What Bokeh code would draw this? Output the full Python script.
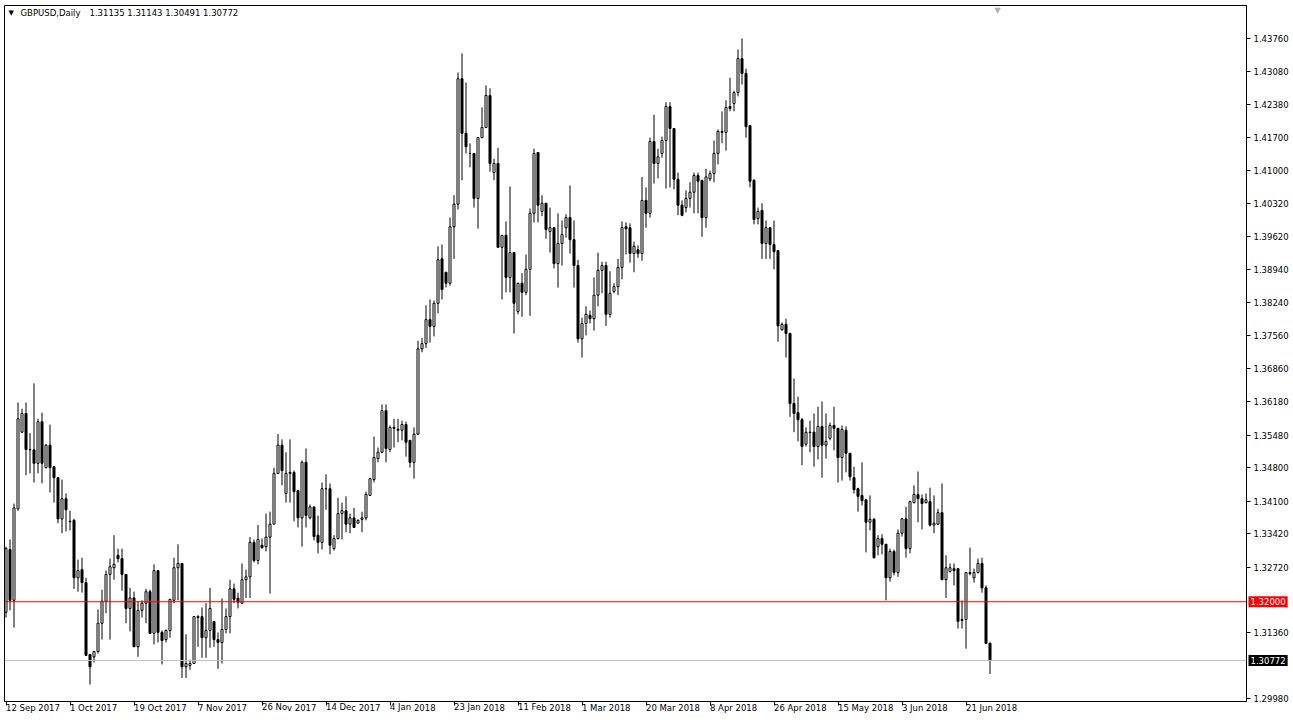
from bokeh.plotting import figure
from bokeh.models import Range1d, FixedTicker, Span, Label, ColumnDataSource, NumeralTickFormatter
from bokeh.embed import file_html
from bokeh.resources import INLINE

symbol = "GBPUSD,Daily"

date_labels = ["12 Sep 2017", "1 Oct 2017", "19 Oct 2017", "7 Nov 2017", "26 Nov 2017",
               "14 Dec 2017", "4 Jan 2018", "23 Jan 2018", "11 Feb 2018", "1 Mar 2018",
               "20 Mar 2018", "8 Apr 2018", "26 Apr 2018", "15 May 2018", "3 Jun 2018",
               "21 Jun 2018"]
bars_per_label = 16

price_ticks = [1.43760, 1.43080, 1.42380, 1.41700, 1.41000, 1.40320, 1.39620, 1.38940,
               1.38240, 1.37560, 1.36860, 1.36180, 1.35480, 1.34800, 1.34100, 1.33420,
               1.32720, 1.31360, 1.29980]

level_price = 1.32000

opens = [
    1.3178, 1.3309, 1.3203, 1.3394, 1.3554, 1.3593, 1.3518, 1.3517, 1.3489, 1.3576,
    1.3480, 1.3527, 1.3482, 1.3459, 1.3373, 1.3415, 1.3368, 1.3370, 1.3250, 1.3267,
    1.3240, 1.3090, 1.3085, 1.3096, 1.3155, 1.3201, 1.3257, 1.3271, 1.3297, 1.3290,
    1.3257, 1.3186, 1.3208, 1.3106, 1.3182, 1.3197, 1.3221, 1.3134, 1.3265, 1.3136,
    1.3121, 1.3140, 1.3203, 1.3271, 1.3280, 1.3064, 1.3067, 1.3071, 1.3167, 1.3169,
    1.3125, 1.3140, 1.3159, 1.3121, 1.3115, 1.3142, 1.3169, 1.3227, 1.3207, 1.3197,
    1.3246, 1.3252, 1.3324, 1.3286, 1.3318, 1.3315, 1.3335, 1.3362, 1.3468, 1.3527,
    1.3426, 1.3468, 1.3470, 1.3432, 1.3375, 1.3491, 1.3375, 1.3398, 1.3339, 1.3324,
    1.3436, 1.3436, 1.3311, 1.3332, 1.3384, 1.3390, 1.3362, 1.3375, 1.3364, 1.3372,
    1.3375, 1.3422, 1.3455, 1.3499, 1.3512, 1.3599, 1.3518, 1.3564, 1.3560, 1.3558,
    1.3570, 1.3537, 1.3491, 1.3550, 1.3728, 1.3739, 1.3789, 1.3775, 1.3823, 1.3916,
    1.3888, 1.3865, 1.3983, 1.4030, 1.4292, 1.4178, 1.4136, 1.4136, 1.4042, 1.4169,
    1.4190, 1.4257, 1.4096, 1.4115, 1.3940, 1.3965, 1.3877, 1.3929, 1.3806, 1.3865,
    1.3846, 1.3894, 1.4011, 1.4138, 1.4015, 1.4032, 1.3973, 1.3981, 1.3906, 1.3948,
    1.3981, 1.4002, 1.3956, 1.3902, 1.3749, 1.3781, 1.3798, 1.3791, 1.3840, 1.3892,
    1.3902, 1.3800, 1.3848, 1.3858, 1.3898, 1.3983, 1.3981, 1.3927, 1.3935, 1.3927,
    1.4038, 1.4011, 1.4161, 1.4115, 1.4136, 1.4163, 1.4234, 1.4188, 1.4082, 1.4028,
    1.4023, 1.4042, 1.4055, 1.4090, 1.4080, 1.4002, 1.4083, 1.4094, 1.4136, 1.4180,
    1.4180, 1.4234, 1.4240, 1.4263, 1.4334, 1.4303, 1.4194, 1.4080, 1.4000, 1.4017,
    1.3948, 1.3981, 1.3946, 1.3933, 1.3768, 1.3779, 1.3760, 1.3614, 1.3595, 1.3580,
    1.3529, 1.3554, 1.3554, 1.3524, 1.3566, 1.3527, 1.3541, 1.3568, 1.3562, 1.3501,
    1.3558, 1.3510, 1.3459, 1.3436, 1.3422, 1.3413, 1.3366, 1.3372, 1.3315, 1.3332,
    1.3320, 1.3250, 1.3305, 1.3261, 1.3343, 1.3373, 1.3311, 1.3407, 1.3424, 1.3415,
    1.3407, 1.3409, 1.3360, 1.3362, 1.3386, 1.3246, 1.3263, 1.3269, 1.3269, 1.3163,
    1.3163, 1.3259, 1.3250, 1.3261, 1.3280, 1.3229, 1.31135,
]

highs = [
    1.3315, 1.3330, 1.3405, 1.3616, 1.3603, 1.3616, 1.3552, 1.3656, 1.3582, 1.3595,
    1.3529, 1.3570, 1.3482, 1.3459, 1.3455, 1.3426, 1.3390, 1.3373, 1.3288, 1.3292,
    1.3250, 1.3090, 1.3096, 1.3184, 1.3225, 1.3265, 1.3290, 1.3339, 1.3311, 1.3311,
    1.3257, 1.3229, 1.3221, 1.3201, 1.3203, 1.3227, 1.3225, 1.3278, 1.3265, 1.3140,
    1.3142, 1.3205, 1.3292, 1.3320, 1.3280, 1.3132, 1.3079, 1.3169, 1.3172, 1.3188,
    1.3197, 1.3229, 1.3159, 1.3136, 1.3207, 1.3186, 1.3246, 1.3238, 1.3219, 1.3280,
    1.3267, 1.3335, 1.3330, 1.3360, 1.3332, 1.3384, 1.3388, 1.3480, 1.3550, 1.3539,
    1.3512, 1.3539, 1.3474, 1.3434, 1.3495, 1.3520, 1.3403, 1.3398, 1.3380, 1.3449,
    1.3466, 1.3447, 1.3339, 1.3417, 1.3407, 1.3420, 1.3384, 1.3396, 1.3372, 1.3388,
    1.3430, 1.3459, 1.3545, 1.3522, 1.3612, 1.3612, 1.3568, 1.3582, 1.3582, 1.3578,
    1.3576, 1.3537, 1.3564, 1.3745, 1.3751, 1.3819, 1.3831, 1.3829, 1.3942, 1.3946,
    1.3888, 1.4002, 1.4049, 1.4305, 1.4345, 1.4284, 1.4157, 1.4136, 1.4169, 1.4232,
    1.4278, 1.4272, 1.4125, 1.4148, 1.3965, 1.3994, 1.4067, 1.3929, 1.3865, 1.3886,
    1.3925, 1.4021, 1.4146, 1.4138, 1.4049, 1.4032, 1.4023, 1.3981, 1.4011, 1.3996,
    1.4009, 1.4069, 1.3996, 1.3914, 1.3793, 1.3817, 1.3808, 1.3877, 1.3929, 1.3910,
    1.3910, 1.3890, 1.3865, 1.3916, 1.3994, 1.3992, 1.3990, 1.3952, 1.3944, 1.4087,
    1.4065, 1.4169, 1.4217, 1.4146, 1.4171, 1.4243, 1.4243, 1.4188, 1.4096, 1.4038,
    1.4059, 1.4076, 1.4096, 1.4096, 1.4080, 1.4104, 1.4100, 1.4163, 1.4186, 1.4224,
    1.4247, 1.4294, 1.4267, 1.4353, 1.4376, 1.4313, 1.4194, 1.4082, 1.4023, 1.4032,
    1.3996, 1.3981, 1.3996, 1.3933, 1.3783, 1.3791, 1.3762, 1.3666, 1.3628, 1.3584,
    1.3564, 1.3578, 1.3593, 1.3607, 1.3618, 1.3593, 1.3574, 1.3607, 1.3562, 1.3568,
    1.3566, 1.3510, 1.3482, 1.3438, 1.3491, 1.3415, 1.3422, 1.3375, 1.3339, 1.3341,
    1.3320, 1.3311, 1.3309, 1.3351, 1.3375, 1.3398, 1.3411, 1.3443, 1.3472, 1.3424,
    1.3426, 1.3438, 1.3422, 1.3394, 1.3447, 1.3297, 1.3280, 1.3280, 1.3269, 1.3203,
    1.3261, 1.3313, 1.3269, 1.3290, 1.3292, 1.3234, 1.31143,
]

lows = [
    1.3167, 1.3182, 1.3146, 1.3390, 1.3552, 1.3464, 1.3468, 1.3449, 1.3468, 1.3447,
    1.3478, 1.3428, 1.3407, 1.3364, 1.3343, 1.3347, 1.3349, 1.3227, 1.3221, 1.3219,
    1.3088, 1.3027, 1.3073, 1.3092, 1.3121, 1.3176, 1.3121, 1.3246, 1.3282, 1.3223,
    1.3155, 1.3138, 1.3106, 1.3085, 1.3167, 1.3155, 1.3134, 1.3111, 1.3115, 1.3069,
    1.3115, 1.3125, 1.3197, 1.3203, 1.3041, 1.3041, 1.3058, 1.3071, 1.3106, 1.3083,
    1.3083, 1.3104, 1.3106, 1.3060, 1.3071, 1.3134, 1.3134, 1.3197, 1.3186, 1.3195,
    1.3208, 1.3208, 1.3282, 1.3278, 1.3311, 1.3305, 1.3217, 1.3362, 1.3468, 1.3443,
    1.3407, 1.3407, 1.3368, 1.3355, 1.3315, 1.3355, 1.3372, 1.3328, 1.3301, 1.3309,
    1.3392, 1.3299, 1.3307, 1.3330, 1.3330, 1.3345, 1.3343, 1.3355, 1.3364, 1.3345,
    1.3370, 1.3422, 1.3449, 1.3491, 1.3510, 1.3491, 1.3512, 1.3522, 1.3533, 1.3537,
    1.3503, 1.3480, 1.3457, 1.3548, 1.3721, 1.3730, 1.3741, 1.3754, 1.3802, 1.3831,
    1.3856, 1.3860, 1.3916, 1.4019, 1.4080, 1.4136, 1.4107, 1.4023, 1.3979, 1.4169,
    1.4190, 1.4098, 1.4080, 1.3940, 1.3831, 1.3846, 1.3846, 1.3760, 1.3800, 1.3795,
    1.3840, 1.3797, 1.3992, 1.3992, 1.4005, 1.3958, 1.3929, 1.3896, 1.3856, 1.3902,
    1.3960, 1.3927, 1.3856, 1.3741, 1.3710, 1.3756, 1.3781, 1.3766, 1.3817, 1.3844,
    1.3776, 1.3793, 1.3844, 1.3840, 1.3873, 1.3925, 1.3908, 1.3888, 1.3918, 1.3912,
    1.3981, 1.4002, 1.4073, 1.4084, 1.4127, 1.4063, 1.4065, 1.4061, 1.4007, 1.4005,
    1.4013, 1.4023, 1.4011, 1.4011, 1.3962, 1.3981, 1.4078, 1.4076, 1.4113, 1.4157,
    1.4142, 1.4224, 1.4224, 1.4255, 1.4280, 1.4169, 1.4065, 1.3988, 1.3988, 1.3916,
    1.3916, 1.3916, 1.3894, 1.3743, 1.3766, 1.3710, 1.3586, 1.3554, 1.3535, 1.3485,
    1.3524, 1.3512, 1.3482, 1.3497, 1.3459, 1.3499, 1.3537, 1.3516, 1.3449, 1.3453,
    1.3470, 1.3453, 1.3426, 1.3388, 1.3401, 1.3303, 1.3349, 1.3290, 1.3297, 1.3299,
    1.3203, 1.3242, 1.3255, 1.3252, 1.3336, 1.3292, 1.3301, 1.3405, 1.3366, 1.3351,
    1.3405, 1.3357, 1.3343, 1.3360, 1.3246, 1.3208, 1.3261, 1.3234, 1.3144, 1.3144,
    1.3102, 1.3255, 1.3240, 1.3259, 1.3219, 1.3113, 1.30491,
]

closes = [
    1.3311, 1.3203, 1.3396, 1.3582, 1.3593, 1.3518, 1.3517, 1.3489, 1.3576, 1.3489,
    1.3527, 1.3480, 1.3459, 1.3373, 1.3415, 1.3392, 1.3367, 1.3250, 1.3265, 1.3240,
    1.3088, 1.3064, 1.3096, 1.3155, 1.3201, 1.3257, 1.3273, 1.3278, 1.3290, 1.3257,
    1.3186, 1.3208, 1.3106, 1.3182, 1.3197, 1.3221, 1.3134, 1.3265, 1.3136, 1.3119,
    1.3140, 1.3205, 1.3271, 1.3280, 1.3064, 1.3071, 1.3071, 1.3169, 1.3169, 1.3125,
    1.3140, 1.3186, 1.3121, 1.3115, 1.3142, 1.3169, 1.3227, 1.3205, 1.3199, 1.3246,
    1.3252, 1.3324, 1.3286, 1.3330, 1.3313, 1.3335, 1.3362, 1.3468, 1.3527, 1.3474,
    1.3468, 1.3470, 1.3430, 1.3375, 1.3491, 1.3380, 1.3398, 1.3336, 1.3324, 1.3436,
    1.3436, 1.3318, 1.3332, 1.3384, 1.3390, 1.3362, 1.3375, 1.3355, 1.3370, 1.3375,
    1.3424, 1.3457, 1.3501, 1.3512, 1.3599, 1.3520, 1.3564, 1.3562, 1.3558, 1.3570,
    1.3533, 1.3491, 1.3550, 1.3728, 1.3739, 1.3789, 1.3775, 1.3823, 1.3914, 1.3852,
    1.3865, 1.3983, 1.4030, 1.4292, 1.4178, 1.4150, 1.4136, 1.4042, 1.4169, 1.4190,
    1.4257, 1.4115, 1.4115, 1.3940, 1.3965, 1.3877, 1.3929, 1.3823, 1.3865, 1.3846,
    1.3894, 1.4011, 1.4136, 1.4028, 1.4032, 1.3977, 1.3981, 1.3906, 1.3948, 1.3967,
    1.4002, 1.3956, 1.3902, 1.3749, 1.3781, 1.3800, 1.3791, 1.3840, 1.3892, 1.3902,
    1.3800, 1.3844, 1.3858, 1.3898, 1.3981, 1.3979, 1.3927, 1.3942, 1.3927, 1.4038,
    1.4011, 1.4161, 1.4115, 1.4129, 1.4163, 1.4234, 1.4188, 1.4082, 1.4028, 1.4007,
    1.4042, 1.4055, 1.4090, 1.4078, 1.4002, 1.4087, 1.4094, 1.4136, 1.4182, 1.4182,
    1.4232, 1.4230, 1.4263, 1.4334, 1.4303, 1.4192, 1.4078, 1.3998, 1.4015, 1.3948,
    1.3981, 1.3946, 1.3931, 1.3776, 1.3779, 1.3760, 1.3614, 1.3593, 1.3580, 1.3524,
    1.3554, 1.3553, 1.3524, 1.3566, 1.3527, 1.3535, 1.3568, 1.3562, 1.3501, 1.3560,
    1.3510, 1.3461, 1.3434, 1.3420, 1.3411, 1.3366, 1.3372, 1.3292, 1.3332, 1.3320,
    1.3250, 1.3305, 1.3261, 1.3343, 1.3373, 1.3311, 1.3409, 1.3424, 1.3415, 1.3405,
    1.3413, 1.3360, 1.3364, 1.3386, 1.3246, 1.3271, 1.3271, 1.3265, 1.3159, 1.3161,
    1.3261, 1.3261, 1.3261, 1.3280, 1.3229, 1.3113, 1.30772,
]

FONT = "DejaVu Sans"
FS = "8.5px"

n = len(opens)
src = ColumnDataSource(dict(
    x=list(range(n)),
    high=highs,
    low=lows,
    top=[max(o, c) for o, c in zip(opens, closes)],
    bottom=[min(o, c) for o, c in zip(opens, closes)],
    fill=["white" if c >= o else "black" for o, c in zip(opens, closes)],
))

FRAME_W, FRAME_H = 1242, 696
PX_PER_BAR = 4
x_start = -0.375
x_end = x_start + FRAME_W / PX_PER_BAR
y_lo, y_hi = 1.29917, 1.44449

p = figure(frame_width=FRAME_W, frame_height=FRAME_H, output_backend="svg",
           toolbar_location=None,
           x_range=Range1d(x_start, x_end), y_range=Range1d(y_lo, y_hi),
           y_axis_location="right",
           min_border_left=4, min_border_top=5, min_border_right=0, min_border_bottom=0)
p.xgrid.visible = False
p.ygrid.visible = False
p.background_fill_color = "white"
p.border_fill_color = "white"
p.outline_line_color = "black"
p.outline_line_width = 1

p.segment(x0="x", y0="low", x1="x", y1="high", source=src, line_color="black", line_width=1)
p.vbar(x="x", top="top", bottom="bottom", width=0.5, source=src,
       fill_color="fill", line_color="black", line_width=1)

p.add_layout(Span(location=level_price, dimension="width", line_color="#ff0000", line_width=1))
p.add_layout(Span(location=closes[-1], dimension="width", line_color="#c0c0c0", line_width=1))

# right price axis
yax = p.yaxis[0]
yax.ticker = FixedTicker(ticks=price_ticks)
yax.formatter = NumeralTickFormatter(format="0.00000")
yax.major_tick_out = 4
yax.major_tick_in = 0
yax.minor_tick_out = 0
yax.minor_tick_in = 0
yax.axis_line_color = "black"
yax.major_tick_line_color = "black"
yax.major_label_text_font = FONT
yax.major_label_text_font_size = FS
yax.major_label_text_color = "black"
yax.major_label_standoff = 3

# bottom date axis, labels start at their tick (left aligned)
xax = p.xaxis[0]
date_ticks = [i * bars_per_label for i in range(len(date_labels))]
xax.ticker = FixedTicker(ticks=date_ticks)
xax.major_label_overrides = {t: lab for t, lab in zip(date_ticks, date_labels)}
xax.major_label_orientation = -1e-6
xax.major_tick_out = 4
xax.major_tick_in = 0
xax.minor_tick_out = 0
xax.minor_tick_in = 0
xax.axis_line_color = "black"
xax.major_label_text_font = FONT
xax.major_label_text_font_size = FS
xax.major_label_text_color = "black"
xax.major_label_standoff = 2

# price tags on the scale (placed in the right panel so they are not clipped)
for val, bg in [(level_price, "#ff0000"), (closes[-1], "#000000")]:
    p.add_layout(Label(x=x_end, y=val, x_units="data", y_units="data", x_offset=2,
                       text=f"{val:.5f}", text_color="white", text_font=FONT,
                       text_font_size=FS, text_align="left", text_baseline="middle",
                       background_fill_color=bg, padding=2), "right")

# header
p.add_layout(Label(x=x_start, y=y_hi, x_offset=4, y_offset=-7, text="\u25BC",
                   text_font=FONT, text_font_size="7px", text_color="black",
                   text_baseline="middle", text_align="left"))
p.add_layout(Label(x=x_start, y=y_hi, x_offset=16, y_offset=-7, text=symbol,
                   text_font=FONT, text_font_size=FS, text_color="black",
                   text_baseline="middle", text_align="left"))
header_vals = " ".join(f"{v:.5f}" for v in (opens[-1], highs[-1], lows[-1], closes[-1]))
p.add_layout(Label(x=x_start, y=y_hi, x_offset=85, y_offset=-7, text=header_vals,
                   text_font=FONT, text_font_size=FS, text_color="black",
                   text_baseline="middle", text_align="left"))
# chart shift marker
p.add_layout(Label(x=247.9, y=y_hi, y_offset=0, text="\u25BC", text_font=FONT,
                   text_font_size="8px", text_color="#b0b0b0",
                   text_baseline="top", text_align="center"))

open("out.html", "w").write(file_html(p, INLINE))
